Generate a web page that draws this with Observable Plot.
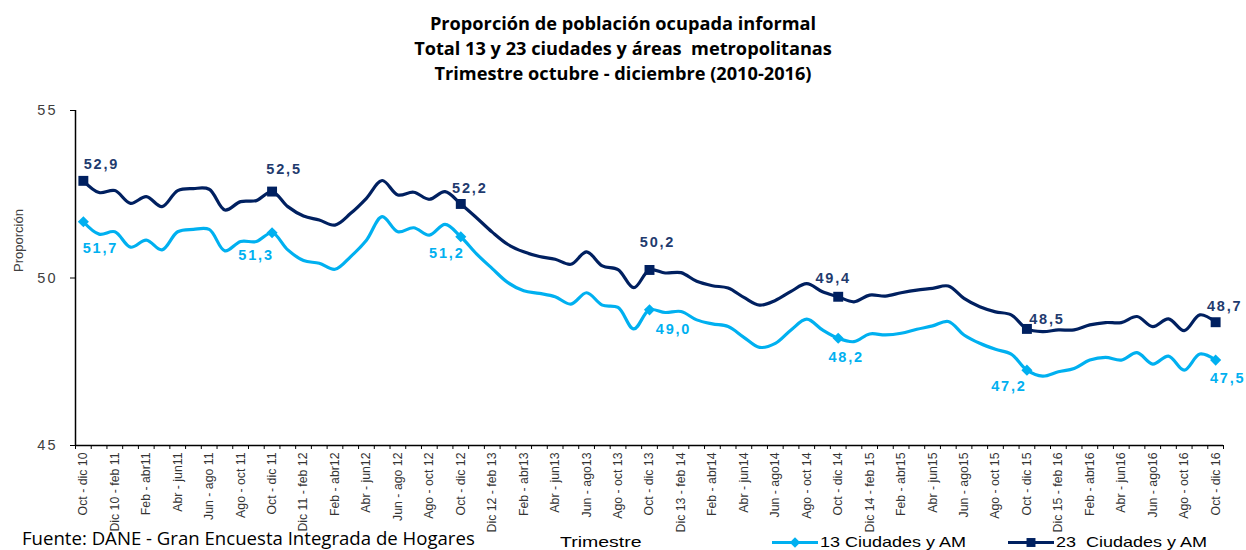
<!DOCTYPE html>
<html>
<head>
<meta charset="utf-8">
<script src="https://cdn.jsdelivr.net/npm/d3@7"></script>
<script src="https://cdn.jsdelivr.net/npm/@observablehq/plot@0.6"></script>
<style>
  body { margin: 0; background: #fff; }
  #wrap { position: relative; width: 1246px; height: 550px; overflow: hidden; background: #fff; }
  #title { height: 95px; padding-top: 11px; box-sizing: border-box; text-align: center;
           font-family: "Open Sans", sans-serif; font-weight: 700; font-size: 18.2px; line-height: 25px; color: #000; }
  #chart svg { display: block; }
  [aria-label="x-axis tick label"] { font-family: "Liberation Sans Narrow", "Arial Narrow", "Liberation Sans", sans-serif; }
  .foot { position: absolute; white-space: pre; }
  #fuente { left: 22px; top: 527px; font-family: "Open Sans", sans-serif; font-size: 18.6px; line-height: 22px; color: #000; }
  #trim { left: 560px; top: 533px; font-family: "Liberation Sans", Arial, sans-serif; font-size: 15px; line-height: 18px; color: #000;
          transform: scaleX(1.3); transform-origin: left center; }
  .leg { top: 533px; font-family: "Liberation Sans", Arial, sans-serif; font-size: 15px; line-height: 18px; color: #000; }
  .legtxt { display: inline-block; transform: scaleX(1.2); transform-origin: left center; white-space: pre; }
  .legsw { position: absolute; top: 0; }
</style>
</head>
<body>
<div id="wrap">
  <div id="title">Proporción de población ocupada informal<br>Total 13 y 23 ciudades y áreas&nbsp; metropolitanas<br>Trimestre octubre - diciembre (2010-2016)</div>
  <div id="chart"></div>
  <div class="foot" id="fuente">Fuente: DANE - Gran Encuesta Integrada de Hogares</div>
  <div class="foot" id="trim">Trimestre</div>
  <div class="foot leg" id="leg13" style="left:772px;"></div>
  <div class="foot leg" id="leg23" style="left:1008px;"></div>
</div>
<script>
// ---- data ----
const periods = [
  "Oct - dic 10","Nov 10 - ene 11","Dic 10 - feb 11","Ene - mar 11","Feb - abr11","Mar - may 11","Abr - jun11","May - jul 11","Jun - ago 11","Jul - sep 11","Ago - oct 11","Sep - nov 11",
  "Oct - dic 11","Nov 11 - ene 12","Dic 11 - feb 12","Ene - mar 12","Feb - abr12","Mar - may 12","Abr - jun12","May - jul 12","Jun - ago 12","Jul - sep 12","Ago - oct 12","Sep - nov 12",
  "Oct - dic 12","Nov 12 - ene 13","Dic 12 - feb 13","Ene - mar 13","Feb - abr13","Mar - may 13","Abr - jun13","May - jul 13","Jun - ago13","Jul - sep 13","Ago - oct 13","Sep - nov 13",
  "Oct - dic 13","Nov 13 - ene 14","Dic 13 - feb 14","Ene - mar 14","Feb - abr14","Mar - may 14","Abr - jun14","May - jul 14","Jun - ago14","Jul - sep 14","Ago - oct 14","Sep - nov 14",
  "Oct - dic 14","Nov 14 - ene 15","Dic 14 - feb 15","Ene - mar 15","Feb - abr15","Mar - may 15","Abr - jun15","May - jul 15","Jun - ago15","Jul - sep 15","Ago - oct 15","Sep - nov 15",
  "Oct - dic 15","Nov 15 - ene 16","Dic 15 - feb 16","Ene - mar 16","Feb - abr16","Mar - may 16","Abr - jun16","May - jul 16","Jun - ago16","Jul - sep 16","Ago - oct 16","Sep - nov 16",
  "Oct - dic 16"
];
const series13Name = "13 Ciudades y AM";
const series23Name = "23  Ciudades y AM";
const values13 = [
  51.68, 51.31, 51.38, 50.92, 51.13, 50.84, 51.38, 51.45, 51.45, 50.81,
  51.09, 51.09, 51.35, 50.84, 50.52, 50.44, 50.26, 50.64, 51.13, 51.83,
  51.38, 51.50, 51.28, 51.60, 51.23, 50.72, 50.28, 49.86, 49.62, 49.54,
  49.44, 49.22, 49.56, 49.19, 49.12, 48.48, 49.05, 48.97, 49.00, 48.75,
  48.63, 48.55, 48.23, 47.93, 48.05, 48.45, 48.77, 48.45, 48.20, 48.10,
  48.33, 48.30, 48.35, 48.47, 48.57, 48.70, 48.30, 48.05, 47.87, 47.73,
  47.25, 47.07, 47.20, 47.30, 47.55, 47.63, 47.55, 47.77, 47.43, 47.67,
  47.25, 47.73, 47.55
];
const values23 = [
  52.90, 52.55, 52.61, 52.23, 52.43, 52.13, 52.61, 52.67, 52.65, 52.03,
  52.28, 52.31, 52.58, 52.13, 51.85, 51.73, 51.58, 51.93, 52.38, 52.91,
  52.48, 52.56, 52.35, 52.58, 52.21, 51.80, 51.37, 51.00, 50.78, 50.64,
  50.56, 50.41, 50.78, 50.36, 50.25, 49.71, 50.24, 50.15, 50.16, 49.90,
  49.77, 49.70, 49.42, 49.19, 49.33, 49.60, 49.83, 49.59, 49.44, 49.29,
  49.49, 49.46, 49.56, 49.64, 49.69, 49.76, 49.39, 49.14, 48.99, 48.90,
  48.48, 48.40, 48.45, 48.45, 48.60, 48.67, 48.67, 48.85, 48.55, 48.78,
  48.43, 48.90, 48.68
];
const markedIdx = [0, 12, 24, 36, 48, 60, 72];
const labels13 = ["51,7", "51,3", "51,2", "49,0", "48,2", "47,2", "47,5"];
const labels23 = ["52,9", "52,5", "52,2", "50,2", "49,4", "48,5", "48,7"];
const yTicks = [45, 50, 55];
const yTitle = "Proporción";

// ---- styling / layout ----
const C13 = "#00B0F0", C23 = "#002060", L13 = "#00B0F0", L23 = "#1F3B6E";
const off13 = [[17, 27], [-16, 23], [-14, 17], [24, 20], [8, 19], [-18, 16], [12, 18]];
const off23 = [[18, -16], [12, -22], [9, -16], [8, -28], [-5, -18], [20, -10], [9, -16]];

const rows13 = values13.map((v, i) => ({i, v}));
const rows23 = values23.map((v, i) => ({i, v}));

const labelMarks = [];
markedIdx.forEach((idx, k) => {
  labelMarks.push(Plot.text([{i: idx, v: values13[idx], t: labels13[k]}], {
    x: "i", y: "v", text: "t", dx: off13[k][0], dy: off13[k][1], fill: L13,
    fontSize: 14.5, fontWeight: "bold", fontFamily: "Liberation Sans, Arial, sans-serif", className: "dlab"
  }));
  labelMarks.push(Plot.text([{i: idx, v: values23[idx], t: labels23[k]}], {
    x: "i", y: "v", text: "t", dx: off23[k][0], dy: off23[k][1], fill: L23,
    fontSize: 14.5, fontWeight: "bold", fontFamily: "Liberation Sans, Arial, sans-serif", className: "dlab"
  }));
});

const chart = Plot.plot({
  width: 1246, height: 435,
  marginLeft: 75, marginRight: 23, marginTop: 15, marginBottom: 85,
  style: {fontFamily: "Liberation Sans, Arial, sans-serif", background: "transparent", overflow: "visible", color: "#000"},
  x: {type: "linear", domain: [-0.5, 72.5]},
  y: {domain: [45, 55]},
  marks: [
    Plot.axisY({ticks: yTicks, tickSize: 5, tickPadding: 13, fontSize: 14.5, fill: "#404040", stroke: "#000", label: null}),
    Plot.text([yTitle], {frameAnchor: "left", dx: -57, dy: -6, rotate: -90, fontSize: 13, fill: "#404040",
      fontFamily: "Liberation Sans Narrow, Arial Narrow, Liberation Sans, sans-serif"}),
    Plot.axisX({ticks: d3.range(-0.5, 73, 1), tickSize: 4, tickFormat: () => "", stroke: "#000", label: null}),
    Plot.axisX({ticks: d3.range(0, 73, 2), tickSize: 0, tickPadding: 7, tickRotate: -90,
      tickFormat: i => periods[i], fontSize: 12.3, fill: "#333", label: null}),
    Plot.ruleX([-0.5], {stroke: "#000", strokeWidth: 1.5}),
    Plot.ruleY([45], {stroke: "#000", strokeWidth: 1.5}),
    Plot.line(rows23, {x: "i", y: "v", stroke: C23, strokeWidth: 3.2, curve: "catmull-rom"}),
    Plot.line(rows13, {x: "i", y: "v", stroke: C13, strokeWidth: 3.2, curve: "catmull-rom"}),
    Plot.dot(markedIdx.map(i => rows23[i]), {x: "i", y: "v", symbol: "square", r: 5.6, fill: C23}),
    Plot.dot(markedIdx.map(i => rows13[i]), {x: "i", y: "v", symbol: "diamond2", r: 5, fill: C13}),
    ...labelMarks
  ]
});
document.getElementById("chart").appendChild(chart);

d3.select(chart).selectAll(".dlab text").style("letter-spacing", "1.8px");
d3.select(chart).selectAll('[aria-label="y-axis tick label"] text').style("letter-spacing", "2px");

// ---- legend ----
function legend(id, name, color, sym) {
  const el = document.getElementById(id);
  const w = 46;
  const s = d3.create("svg").attr("width", w).attr("height", 18).attr("class", "legsw")
    .style("left", "0px").style("top", "0px");
  s.append("line").attr("x1", 0).attr("x2", w).attr("y1", 9.5).attr("y2", 9.5).attr("stroke", color).attr("stroke-width", 3);
  s.append("path").attr("transform", `translate(${w / 2},9.5)`)
    .attr("d", d3.symbol(sym === "square" ? d3.symbolSquare : d3.symbolDiamond2, sym === "square" ? 80 : 70)()).attr("fill", color);
  el.appendChild(s.node());
  const t = document.createElement("span");
  t.className = "legtxt";
  t.style.marginLeft = (w + 2) + "px";
  t.textContent = name;
  el.appendChild(t);
}
legend("leg13", series13Name, C13, "diamond");
legend("leg23", series23Name, C23, "square");
</script>
</body>
</html>
